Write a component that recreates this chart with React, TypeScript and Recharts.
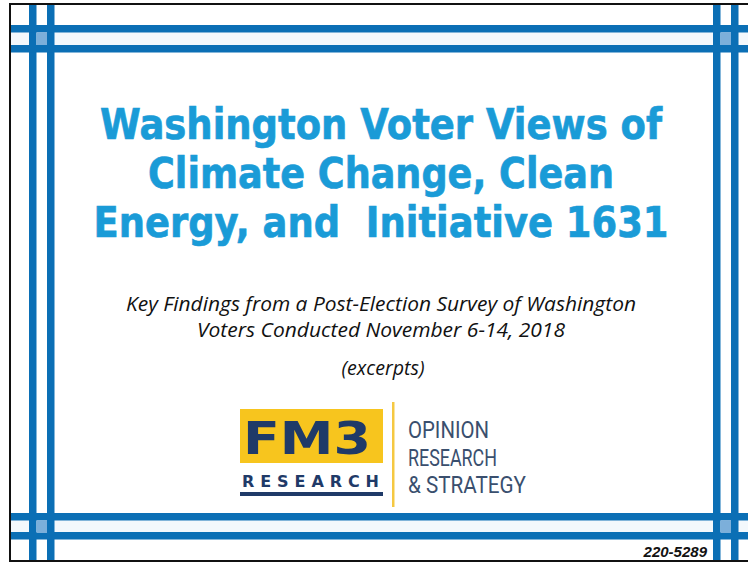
import React from "react";
import { Surface, Layer, Rectangle } from "recharts";

// ---- content ----
const titleLines = ["Washington Voter Views of", "Climate Change, Clean", "Energy, and  Initiative 1631"];
const subtitleLines = ["Key Findings from a Post-Election Survey of Washington", "Voters Conducted November 6-14, 2018"];
const noteText = "(excerpts)";
const logoMark = "FM3";
const logoSub = "RESEARCH";
const taglineLines = ["OPINION", "RESEARCH", "& STRATEGY"];
const jobNumber = "220-5289";

// ---- layout ----
const W = 748;
const H = 562;
const BLUE = "#0b6fb5";
const LIGHT = "#7cafda";
const TITLE = "#1a9bd7";

const vBars = [29, 47, 713, 731];
const hBars = [25, 45, 513, 532];
const BAR = 7.5;

const titleGeom = [
  { y: 139, len: 562 },
  { y: 188, len: 466 },
  { y: 237, len: 575 },
];
const subGeom = [
  { y: 311, len: 510 },
  { y: 337, len: 368 },
];

export default function App() {
  const cx = 381;
  return (
    <div style={{ position: "absolute", left: 0, top: 0, width: W, height: H, background: "#fff" }}>
      <Surface width={W} height={H} viewBox={{ x: 0, y: 0, width: W, height: H }}>
        <Layer>
          <Rectangle x={0} y={0} width={W} height={H} fill="#ffffff" />
          <Rectangle x={10} y={hBars[0] + BAR} width={W} height={hBars[1] - hBars[0] - BAR} fill="#f3f8fc" />
          <Rectangle x={10} y={hBars[2] + BAR} width={W} height={hBars[3] - hBars[2] - BAR} fill="#f3f8fc" />
          {vBars.map((x, i) => (
            <Rectangle key={"v" + i} x={x} y={4} width={BAR} height={H} fill={BLUE} />
          ))}
          {hBars.map((y, i) => (
            <Rectangle key={"h" + i} x={10} y={y} width={W} height={BAR} fill={BLUE} />
          ))}
          {[[vBars[0], hBars[0]], [vBars[2], hBars[0]], [vBars[0], hBars[2]], [vBars[2], hBars[2]]].map(([x, y], i) => (
            <Rectangle
              key={"s" + i}
              x={x + BAR}
              y={y + BAR}
              width={vBars[1] - vBars[0] - BAR}
              height={hBars[1] - hBars[0] - BAR}
              fill={LIGHT}
            />
          ))}
          <Rectangle x={9} y={3} width={W} height={2} fill="#111" />
          <Rectangle x={9} y={3} width={2} height={H} fill="#111" />
          <Rectangle x={9} y={H - 2} width={W} height={2} fill="#111" />
        </Layer>

        <Layer>
          {titleLines.map((t, i) => (
            <text
              key={"t" + i}
              x={cx}
              y={titleGeom[i].y}
              textAnchor="middle"
              fontFamily="DejaVu Sans"
              fontWeight="bold"
              fontSize={42}
              fill={TITLE}
              stroke={TITLE}
              strokeWidth={0.7}
              textLength={titleGeom[i].len}
              lengthAdjust="spacingAndGlyphs"
              style={{ whiteSpace: "pre" }}
            >
              {t}
            </text>
          ))}
          {subtitleLines.map((t, i) => (
            <text
              key={"s" + i}
              x={cx}
              y={subGeom[i].y}
              textAnchor="middle"
              fontFamily="Open Sans"
              fontStyle="italic"
              fontSize={20}
              fill="#111"
              textLength={subGeom[i].len}
              lengthAdjust="spacingAndGlyphs"
            >
              {t}
            </text>
          ))}
          <text
            x={cx + 2}
            y={375}
            textAnchor="middle"
            fontFamily="Open Sans"
            fontStyle="italic"
            fontSize={20}
            fill="#111"
            textLength={83}
            lengthAdjust="spacingAndGlyphs"
          >
            {noteText}
          </text>
        </Layer>

        <Layer>
          <Rectangle x={240} y={409} width={143} height={54} fill="#f7c51e" />
          <text
            x={243}
            y={454}
            fontFamily="DejaVu Sans"
            fontWeight="bold"
            fontSize={45}
            fill="#1f3a68"
            textLength={128}
            lengthAdjust="spacingAndGlyphs"
          >
            {logoMark}
          </text>
          <text
            x={242}
            y={487}
            fontFamily="DejaVu Sans"
            fontWeight="bold"
            fontSize={16}
            fill="#1f3a68"
            textLength={137}
            lengthAdjust="spacing"
          >
            {logoSub}
          </text>
          <Rectangle x={240} y={492} width={143} height={4} fill="#1f3a68" />
          <Rectangle x={392} y={402} width={2.5} height={105} fill="#f5c842" />
          {taglineLines.map((t, i) => (
            <text
              key={"g" + i}
              x={408}
              y={438 + i * 27.5}
              fontFamily="Roboto"
              fontSize={24}
              fill="#3a4f6e"
              textLength={[81, 89, 118][i]}
              lengthAdjust="spacingAndGlyphs"
            >
              {t}
            </text>
          ))}
        </Layer>

        <text
          x={707}
          y={557}
          textAnchor="end"
          fontFamily="Liberation Sans"
          fontWeight="bold"
          fontStyle="italic"
          fontSize={15}
          fill="#111"
        >
          {jobNumber}
        </text>
      </Surface>
    </div>
  );
}
